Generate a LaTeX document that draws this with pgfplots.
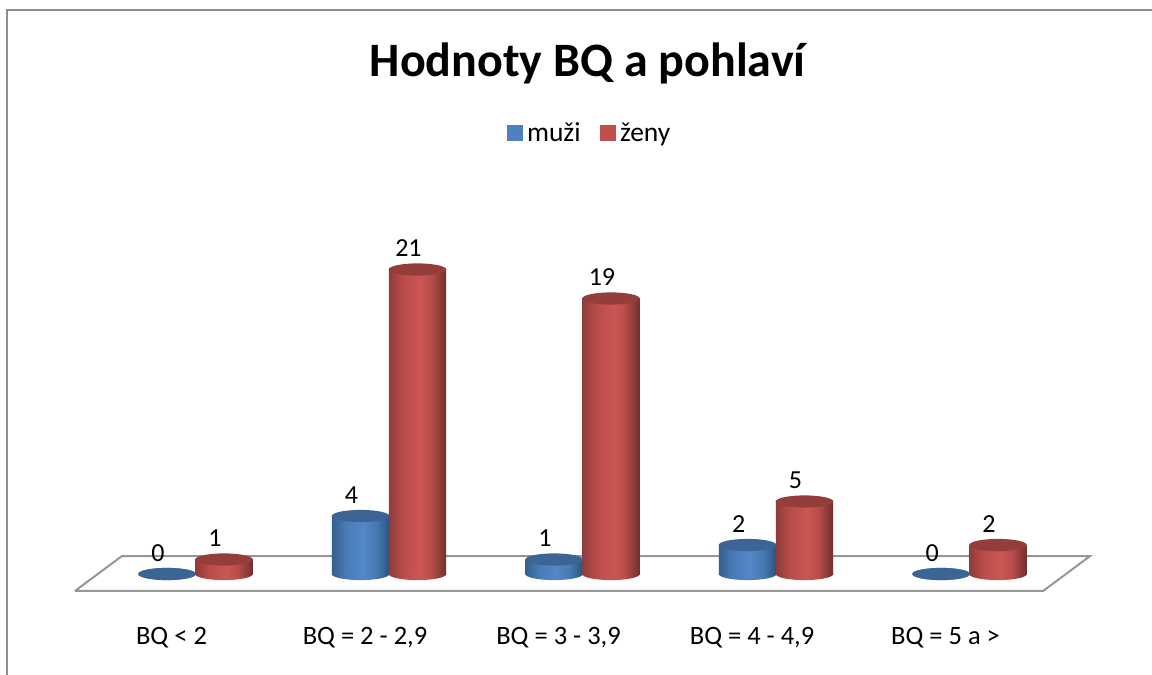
\documentclass[border=0pt]{standalone}
\usepackage{pgfplots}
\pgfplotsset{compat=1.18}
\usepackage{pgfplotstable}
\usepackage{fontspec}
\setmainfont{Carlito}
\definecolor{frameg}{HTML}{8E8E8E}
\definecolor{floorg}{HTML}{969696}
\definecolor{capb}{HTML}{3C6595}
\definecolor{capr}{HTML}{943D3B}
\definecolor{legb}{HTML}{4F81BD}
\definecolor{legr}{HTML}{C0504D}
\definecolor{ba}{rgb}{0.21,0.37,0.56}
\definecolor{bb}{rgb}{0.29,0.48,0.71}
\definecolor{bc}{rgb}{0.325,0.53,0.78}
\definecolor{bd}{rgb}{0.275,0.47,0.69}
\definecolor{be}{rgb}{0.17,0.32,0.50}
\definecolor{ra}{rgb}{0.56,0.235,0.227}
\definecolor{rb}{rgb}{0.72,0.30,0.29}
\definecolor{rc}{rgb}{0.80,0.337,0.33}
\definecolor{rd}{rgb}{0.72,0.30,0.29}
\definecolor{re}{rgb}{0.44,0.188,0.18}
\pgfdeclarehorizontalshading{bluecyl}{100bp}{color(0bp)=(ba); color(25bp)=(ba); color(37bp)=(bb); color(52bp)=(bc); color(64bp)=(bd); color(75bp)=(be); color(100bp)=(be)}
\pgfdeclarehorizontalshading{redcyl}{100bp}{color(0bp)=(ra); color(25bp)=(ra); color(37bp)=(rb); color(52bp)=(rc); color(62bp)=(rd); color(75bp)=(re); color(100bp)=(re)}
\pgfdeclareplotmark{capblue}{\path[draw=none,fill=capb,rotate=7] (0pt,0pt) ellipse [x radius=28.8pt,y radius=6.1pt];}
\pgfdeclareplotmark{capred}{\path[draw=none,fill=capr,rotate=7] (0pt,0pt) ellipse [x radius=28.8pt,y radius=6.1pt];}
\pgfdeclareplotmark{botblue}{\path[draw=none,shade,shading=bluecyl,rotate=7] (0pt,0pt) ellipse [x radius=28.8pt,y radius=6.1pt];}
\pgfdeclareplotmark{botred}{\path[draw=none,shade,shading=redcyl,rotate=7] (0pt,0pt) ellipse [x radius=28.8pt,y radius=6.1pt];}
\pgfplotstableread{
x v
0 0
1 4
2 1
3 2
4 0
}\muzi
\pgfplotstableread{
x v
0 1
1 21
2 19
3 5
4 2
}\zeny
\pgfplotsset{
  cylblue/.style={ybar,bar width=57.4pt,bar shift=0pt,draw=none,shade,shading=bluecyl,forget plot},
  cylred/.style={ybar,bar width=57.4pt,bar shift=0pt,draw=none,shade,shading=redcyl,forget plot},
}
\begin{document}
\begin{tikzpicture}
\path[use as bounding box] (0,0) rectangle (1152pt,675pt);
\begin{axis}[
  at={(0pt,84pt)},anchor=south west,
  scale only axis,width=1152pt,height=591pt,
  xmin=-1.0103,xmax=4.943,ymin=-1.172,ymax=39.586,
  clip=false,
  axis line style={draw=none},
  tick style={draw=none},
  ytick=\empty,
  xtick={-0.124,0.876,1.876,2.876,3.876},
  xticklabels={{BQ < 2},{BQ = 2 - 2,9},{BQ = 3 - 3,9},{BQ = 4 - 4,9},{BQ = 5 a >}},
  x tick label style={font=\fontsize{26.5}{30}\selectfont,anchor=center,yshift=-47pt},
  /pgf/number format/assume math mode=true,
  title={Hodnoty BQ a pohlaví},
  title style={font=\fontsize{48}{56}\selectfont\bfseries,at={(0.51,0.882)},anchor=center},
  legend style={at={(0.5117,0.775)},anchor=center,draw=none,fill=none,
    legend columns=2,font=\fontsize{27.5}{30}\selectfont,
    /tikz/every odd column/.append style={column sep=3pt},
    /tikz/every even column/.append style={column sep=17pt},
    inner sep=0pt},
  legend image code/.code={\fill[#1] (0pt,-7.5pt) rectangle (15pt,7.5pt);},
  every node near coord/.style={anchor=center,xshift=-9pt,yshift=21pt,font=\fontsize{26}{30}\selectfont,text=black},
]
\addlegendimage{legb,fill=legb}\addlegendentry{muži}
\addlegendimage{legr,fill=legr}\addlegendentry{ženy}
% frame and floor
\addplot[frameg,line width=2pt,forget plot] coordinates {(-0.974,-6.97)(-0.974,38.9)(4.943,38.9)};
\addplot[floorg,line width=2pt,forget plot] coordinates {(-0.623,-1.172)(-0.380,1.241)(4.623,1.241)(4.380,-1.172)(-0.623,-1.172)};
% muži
\addplot[only marks,mark=botblue,forget plot] table[x expr=\thisrow{x}-0.147,y expr=0] {\muzi};
\addplot[cylblue] coordinates {(0.853,4)};
\addplot[cylblue] coordinates {(1.853,1)};
\addplot[cylblue] coordinates {(2.853,2)};
\addplot[only marks,mark=capblue,forget plot,nodes near coords] table[x expr=\thisrow{x}-0.147,y=v] {\muzi};
% ženy
\addplot[only marks,mark=botred,forget plot] table[x expr=\thisrow{x}+0.147,y expr=0] {\zeny};
\addplot[cylred] coordinates {(0.147,1)};
\addplot[cylred] coordinates {(1.147,21)};
\addplot[cylred] coordinates {(2.147,19)};
\addplot[cylred] coordinates {(3.147,5)};
\addplot[cylred] coordinates {(4.147,2)};
\addplot[only marks,mark=capred,forget plot,nodes near coords] table[x expr=\thisrow{x}+0.147,y=v] {\zeny};
\end{axis}
\end{tikzpicture}
\end{document}
